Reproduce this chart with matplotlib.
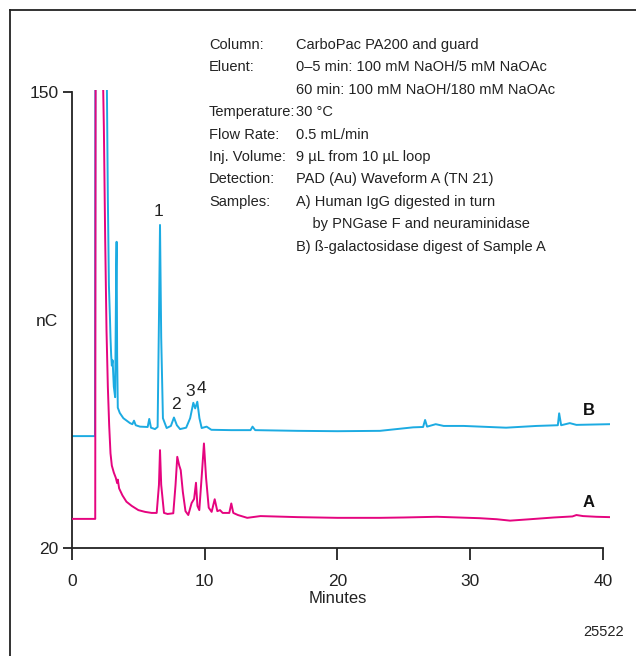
import matplotlib
matplotlib.use("Agg")
import matplotlib.pyplot as plt
from matplotlib.lines import Line2D

plt.rcParams['font.family'] = ['Liberation Sans', 'DejaVu Sans']

# Sample A (magenta) - time in minutes, response in nC
timeA = [0, 1.75, 1.78, 2.33, 2.4, 2.5, 2.6, 2.7, 2.8, 2.9, 3.0, 3.15, 3.3, 3.4, 3.45,
         3.55, 3.8, 4.1, 4.5, 5.0, 5.5, 6.0, 6.38, 6.55, 6.63, 6.72, 6.93, 7.2, 7.63,
         7.8, 7.93, 8.08, 8.19, 8.35, 8.55, 8.76, 9.01, 9.2, 9.34, 9.45, 9.59, 9.8,
         9.94, 10.1, 10.3, 10.52, 10.75, 10.95, 11.15, 11.35, 11.52, 11.85, 12.0,
         12.15, 12.5, 13.2, 14.2, 17, 20, 23.2, 25, 27.5, 30.7, 32, 33.0, 34.5, 36.3,
         37.7, 38.0, 38.5, 39.5, 40.5]
sigA = [28.3, 28.3, 155, 155, 140, 108, 82, 66, 55, 47, 43.5, 41.5, 40, 38.5, 39.5,
        37, 35, 33.2, 32, 30.8, 30.3, 30.0, 30.0, 38, 47.9, 38, 30.0, 29.7, 29.9,
        38, 46.0, 43.5, 42.2, 36, 30.5, 29.4, 32.8, 34, 38.6, 32, 30.8, 42,
        49.8, 40, 31.5, 30.3, 33.9, 30.5, 30.8, 30.0, 30.0, 30.0, 32.7,
        30.0, 29.4, 28.6, 29.1, 28.8, 28.6, 28.6, 28.7, 28.9, 28.5, 28.2, 27.8, 28.2, 28.7,
        29.0, 29.4, 29.1, 28.9, 28.8]

# Sample B (cyan)
timeB = [0, 1.73, 1.76, 2.62, 2.7, 2.78, 2.86, 2.9, 2.95, 3.0, 3.06, 3.15, 3.25,
         3.33, 3.36, 3.4, 3.45, 3.6, 3.87, 4.37, 4.55, 4.67, 4.8, 5.12, 5.7, 5.82,
         5.95, 6.25, 6.45, 6.55, 6.63, 6.72, 6.85, 7.13, 7.45, 7.68, 7.9, 8.14, 8.6,
         8.9, 9.14, 9.28, 9.44, 9.6, 9.77, 10.14, 10.5, 12.0, 13.45, 13.6, 13.8,
         17, 20, 23.2, 25.7, 26.45, 26.6, 26.75, 27.4, 28, 29.5, 32.7, 35.0, 36.6,
         36.7, 36.85, 37.5, 38.0, 40.5]
sigB = [51.9, 51.9, 155, 155, 120, 95, 85.5, 80, 75, 72, 73.5, 66, 63,
        100, 107.3, 75, 60, 58.5, 57, 55.6, 55.3, 56.3, 55, 54.6, 54.5, 56.8,
        54.3, 53.9, 54.5, 85, 112.1, 80, 57, 54.2, 54.8, 57.2, 55, 53.9, 54.3,
        57, 61.4, 59.8, 61.7, 57, 54.2, 54.6, 53.7, 53.6, 53.6, 54.6, 53.6,
        53.4, 53.3, 53.4, 54.4, 54.5, 56.5, 54.6, 55.3, 54.8, 54.8, 54.3, 54.8, 55.0,
        58.4, 55.0, 55.6, 55.1, 55.3]

peak_labels = ['1', '2', '3', '4']
peak_x = [6.48, 7.83, 8.89, 9.72]
peak_y = [115.8, 60.8, 64.5, 65.6]

conditions = [
    ('Column:', 'CarboPac PA200 and guard'),
    ('Eluent:', '0\u20135 min: 100 mM NaOH/5 mM NaOAc'),
    ('', '60 min: 100 mM NaOH/180 mM NaOAc'),
    ('Temperature:', '30 \u00b0C'),
    ('Flow Rate:', '0.5 mL/min'),
    ('Inj. Volume:', '9 \u00b5L from 10 \u00b5L loop'),
    ('Detection:', 'PAD (Au) Waveform A (TN 21)'),
    ('Samples:', 'A) Human IgG digested in turn'),
    ('', '    by PNGase F and neuraminidase'),
    ('', 'B) \u00df-galactosidase digest of Sample A'),
]

W, H = 636, 656
fig = plt.figure(figsize=(W / 100, H / 100), dpi=100)
ax = fig.add_axes([72 / W, (H - 548) / H, 537.6 / W, 458.1 / H])

magenta = '#E5047F'
cyan = '#1CABE2'
ax.plot(timeB, sigB, color=cyan, lw=1.4, zorder=2)
ax.plot(timeA, sigA, color=magenta, lw=1.4, zorder=3)

ax.set_xlim(0, 40.5)
ax.set_ylim(20, 150.6)
for s in ['top', 'right']:
    ax.spines[s].set_visible(False)
ax.spines['left'].set_bounds(20, 150)
ax.spines['bottom'].set_bounds(0, 40)
ax.spines['left'].set_linewidth(1.3)
ax.spines['bottom'].set_linewidth(1.3)
ax.set_xticks([0, 10, 20, 30, 40])
ax.set_yticks([20, 150])
ax.tick_params(axis='x', direction='out', length=8.5, width=1.3, pad=10, labelsize=12.5, colors='#222222')
ax.tick_params(axis='y', direction='out', length=6.5, width=1.3, pad=3, labelsize=12.5, colors='#222222')
for sp in ax.spines.values():
    sp.set_color('#222222')

ax.text(20, 7.8, 'Minutes', ha='center', va='top', fontsize=12, color='#222222')
fig.text(58 / W, 1 - 322 / H, 'nC', ha='right', va='center', fontsize=12.5, color='#222222')
fig.text(624 / W, 1 - 632 / H, '25522', ha='right', va='center', fontsize=10.5, color='#222222')

for lab, x, y in zip(peak_labels, peak_x, peak_y):
    ax.text(x, y, lab, ha='center', va='center', fontsize=12.5, color='#222222')
ax.text(38.95, 59.3, 'B', ha='center', va='center', fontsize=12, fontweight='bold', color='#111111')
ax.text(38.95, 33.1, 'A', ha='center', va='center', fontsize=12, fontweight='bold', color='#111111')

y0 = 45
for i, (k, v) in enumerate(conditions):
    yy = 1 - (y0 + i * 22.4) / H
    if k:
        fig.text(209 / W, yy, k, ha='left', va='center', fontsize=10.5, color='#222222')
    fig.text(296 / W, yy, v, ha='left', va='center', fontsize=10.5, color='#222222')

# outer frame (left and top edges only visible)
fig.add_artist(Line2D([10 / W, 10 / W], [0, 1 - 10 / H], color='#222222', lw=1.3))
fig.add_artist(Line2D([10 / W, 1], [1 - 10 / H, 1 - 10 / H], color='#222222', lw=1.3))

fig.savefig('out.png', dpi=100)
